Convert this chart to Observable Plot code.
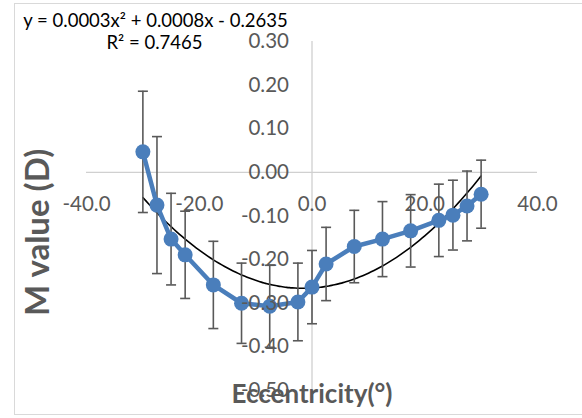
<!DOCTYPE html>
<html>
<head>
<meta charset="utf-8">
<script src="https://cdn.jsdelivr.net/npm/d3@7"></script>
<script src="https://cdn.jsdelivr.net/npm/@observablehq/plot@0.6"></script>
<style>
  html, body { margin: 0; padding: 0; background: #fff; overflow: hidden; }
  #wrap { position: relative; width: 582px; height: 418px; }
  #border { position: absolute; left: 14px; top: 3px; width: 600px; height: 412px; border: 1px solid #d9d9d9; box-sizing: border-box; }
  #chart { position: absolute; left: 0; top: 0; }
</style>
</head>
<body>
<div id="wrap"><div id="border"></div><div id="chart"></div></div>
<script>
// Eccentricity (degrees)
const eccentricity = [-30, -27.5, -25, -22.5, -17.5, -12.5, -7.5, -2.5, 0, 2.5, 7.5, 12.5, 17.5, 22.5, 25, 27.5, 30];
// M value (D), mean
const mValue = [0.047, -0.075, -0.153, -0.189, -0.258, -0.300, -0.307, -0.297, -0.263, -0.210, -0.170, -0.153, -0.134, -0.110, -0.098, -0.077, -0.050];
// error bar half-length (D)
const mError = [0.139, 0.157, 0.105, 0.100, 0.100, 0.092, 0.094, 0.089, 0.084, 0.084, 0.083, 0.086, 0.083, 0.083, 0.080, 0.080, 0.078];
const xTicks = [-40, -20, 0, 20, 40];
const yTicks = [0.3, 0.2, 0.1, 0, -0.1, -0.2, -0.3, -0.4, -0.5];
const equationText = "y = 0.0003x² + 0.0008x - 0.2635";
const r2Text = "R² = 0.7465";
const xTitle = "Eccentricity(°)";
const yTitle = "M value (D)";

const data = eccentricity.map((x, i) => ({x, m: mValue[i], e: mError[i]}));

// quadratic least-squares trendline (like Excel's polynomial order 2)
function polyFit2(xs, ys) {
  let S = [0,0,0,0,0], T = [0,0,0];
  xs.forEach((x, i) => {
    for (let k = 0; k < 5; k++) S[k] += Math.pow(x, k);
    for (let k = 0; k < 3; k++) T[k] += Math.pow(x, k) * ys[i];
  });
  const A = [[S[0],S[1],S[2],T[0]],[S[1],S[2],S[3],T[1]],[S[2],S[3],S[4],T[2]]];
  for (let c = 0; c < 3; c++) {
    for (let r = c + 1; r < 3; r++) {
      const f = A[r][c] / A[c][c];
      for (let k = c; k < 4; k++) A[r][k] -= f * A[c][k];
    }
  }
  const sol = [0,0,0];
  for (let r = 2; r >= 0; r--) {
    let s = A[r][3];
    for (let k = r + 1; k < 3; k++) s -= A[r][k] * sol[k];
    sol[r] = s / A[r][r];
  }
  return sol; // c0, c1, c2
}
const [c0, c1, c2] = polyFit2(eccentricity, mValue);
const xMin = d3.min(eccentricity), xMax = d3.max(eccentricity);
const trend = d3.range(0, 121).map(i => {
  const x = xMin + (xMax - xMin) * i / 120;
  return {x, y: c0 + c1 * x + c2 * x * x};
});

const capSymbol = {
  draw(context, size) {
    context.moveTo(-5, 0);
    context.lineTo(5, 0);
  }
};

const grey = "#595959";
const blue = "#4a7ebb";
const font = "Lato, 'Open Sans', sans-serif";

const chart = Plot.plot({
  width: 582,
  height: 418,
  marginLeft: 86,
  marginRight: 45,
  marginTop: 41,
  marginBottom: 28,
  x: {domain: [-40, 40], axis: null},
  y: {domain: [-0.5, 0.3], axis: null},
  style: {fontFamily: font, background: "transparent"},
  marks: [
    Plot.ruleY([0], {stroke: "#d0d0d0", strokeWidth: 1.3}),
    Plot.ruleX([0], {stroke: "#d0d0d0", strokeWidth: 1.3}),
    Plot.line(trend, {x: "x", y: "y", stroke: "#000", strokeWidth: 1.6, curve: "natural"}),
    Plot.ruleX(data, {x: "x", y1: d => d.m - d.e, y2: d => d.m + d.e, stroke: grey, strokeWidth: 1.6}),
    Plot.dot(data, {x: "x", y: d => d.m + d.e, symbol: capSymbol, fill: "none", stroke: grey, strokeWidth: 1.6}),
    Plot.dot(data, {x: "x", y: d => d.m - d.e, symbol: capSymbol, fill: "none", stroke: grey, strokeWidth: 1.6}),
    Plot.line(data, {x: "x", y: "m", stroke: blue, strokeWidth: 4.5, strokeLinejoin: "round"}),
    Plot.dot(data, {x: "x", y: "m", r: 7.5, fill: blue, stroke: "none"}),
    Plot.text(yTicks, {x: 0, y: d => d, text: d => d.toFixed(2), textAnchor: "end", dx: -23, fill: grey, fontSize: 20.5}),
    Plot.text(xTicks, {x: d => d, y: 0, text: d => d.toFixed(1), dy: 32, fill: grey, fontSize: 20.5}),
    Plot.text([equationText], {text: d => d, frameAnchor: "top-left", textAnchor: "middle", dx: 69, dy: -15, lineAnchor: "bottom", fill: "#000", fontSize: 18.5}),
    Plot.text([r2Text], {text: d => d, frameAnchor: "top-left", textAnchor: "middle", dx: 68, dy: 7, lineAnchor: "bottom", fill: "#000", fontSize: 18.5}),
    Plot.text([xTitle], {text: d => d, frameAnchor: "bottom", dy: 12, fill: grey, fontSize: 26, fontWeight: "bold"}),
    Plot.text([yTitle], {text: d => d, frameAnchor: "left", rotate: -90, dx: -48, dy: 100, fill: grey, fontSize: 33, fontWeight: "bold"})
  ]
});
document.getElementById("chart").appendChild(chart);
</script>
</body>
</html>
